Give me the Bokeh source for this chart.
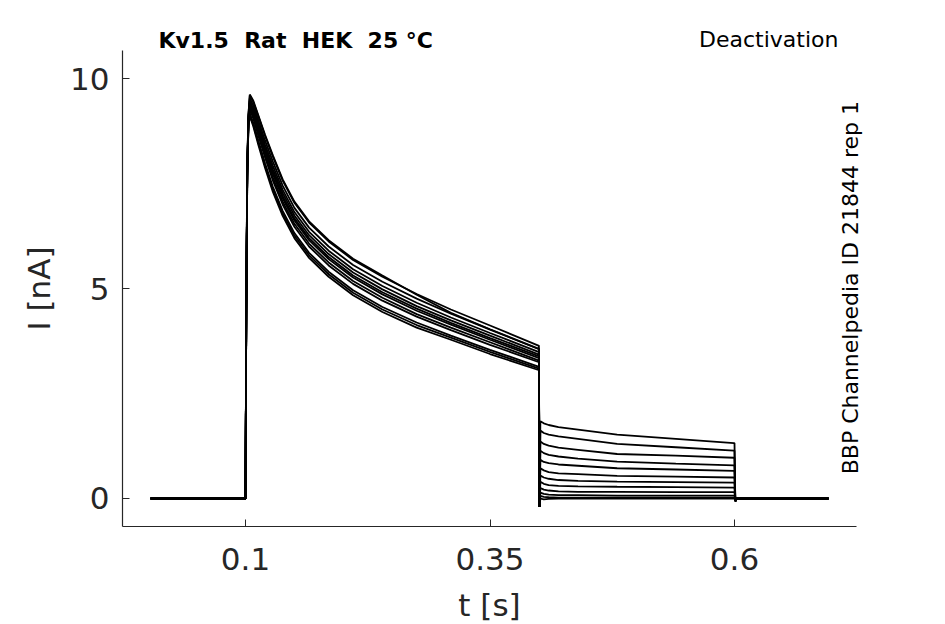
import math
from bokeh.plotting import figure
from bokeh.models import Label, FixedTicker, CustomJSTickFormatter, Range1d
from bokeh.embed import file_html
from bokeh.resources import INLINE

# ---------------- data ----------------
BASE_T = [0.003, 0.0995]
BASE_I = [0.0, 0.0]

ACT_T = [0.1, 0.1008, 0.1018, 0.103, 0.1044, 0.108, 0.113, 0.12, 0.128,
         0.138, 0.15, 0.165, 0.185, 0.21, 0.24, 0.275, 0.31, 0.35, 0.3995]
ACT = [
    [0, 4.60, 7.90, 9.13, 9.60, 9.44, 9.11, 8.63, 8.14, 7.57, 7.04, 6.57, 6.12, 5.68, 5.28, 4.87, 4.50, 4.12, 3.64],
    [0, 4.45, 7.75, 8.95, 9.26, 9.05, 8.65, 8.12, 7.57, 7.00, 6.47, 6.00, 5.55, 5.11, 4.71, 4.33, 4.01, 3.66, 3.25],
    [0, 4.55, 7.85, 9.06, 9.47, 9.29, 8.93, 8.43, 7.92, 7.35, 6.82, 6.35, 5.90, 5.46, 5.06, 4.66, 4.31, 3.94, 3.49],
    [0, 4.40, 7.65, 8.87, 9.10, 8.86, 8.43, 7.87, 7.30, 6.73, 6.20, 5.73, 5.28, 4.84, 4.44, 4.07, 3.78, 3.44, 3.06],
    [0, 4.50, 7.80, 9.02, 9.38, 9.19, 8.81, 8.30, 7.77, 7.20, 6.67, 6.20, 5.75, 5.31, 4.91, 4.52, 4.18, 3.82, 3.39],
    [0, 4.60, 7.90, 9.09, 9.53, 9.36, 9.01, 8.52, 8.02, 7.45, 6.92, 6.45, 6.00, 5.56, 5.16, 4.76, 4.40, 4.02, 3.56],
    [0, 4.40, 7.70, 8.91, 9.17, 8.94, 8.53, 7.98, 7.42, 6.85, 6.32, 5.85, 5.40, 4.96, 4.56, 4.19, 3.88, 3.54, 3.14],
    [0, 4.70, 8.00, 9.14, 9.62, 9.47, 9.13, 8.66, 8.17, 7.60, 7.07, 6.60, 6.15, 5.71, 5.31, 4.85, 4.42, 4.03, 3.57],
    [0, 4.50, 7.80, 8.98, 9.30, 9.09, 8.71, 8.18, 7.64, 7.07, 6.54, 6.07, 5.62, 5.18, 4.78, 4.39, 4.07, 3.72, 3.29],
    [0, 4.50, 7.85, 9.04, 9.42, 9.23, 8.87, 8.36, 7.84, 7.27, 6.74, 6.27, 5.82, 5.38, 4.98, 4.58, 4.24, 3.88, 3.43],
    [0, 4.35, 7.65, 8.89, 9.13, 8.90, 8.48, 7.93, 7.36, 6.79, 6.26, 5.79, 5.34, 4.90, 4.50, 4.13, 3.83, 3.49, 3.10],
    [0, 4.50, 7.80, 9.00, 9.35, 9.15, 8.77, 8.25, 7.72, 7.15, 6.62, 6.15, 5.70, 5.26, 4.86, 4.47, 4.14, 3.78, 3.35],
]

STEP_T = [0.4, 0.4006]
STEP_DIP = -0.2
DEACT_T = [0.4015, 0.405, 0.41, 0.42, 0.44, 0.48, 0.54, 0.5995]
DEACT = [
    [1.84, 1.79, 1.75, 1.70, 1.64, 1.52, 1.42, 1.32],
    [1.62, 1.56, 1.52, 1.48, 1.42, 1.30, 1.22, 1.14],
    [1.36, 1.30, 1.26, 1.21, 1.16, 1.06, 1.02, 0.97],
    [1.14, 1.08, 1.04, 1.00, 0.95, 0.88, 0.83, 0.79],
    [0.92, 0.87, 0.84, 0.81, 0.78, 0.72, 0.69, 0.66],
    [0.72, 0.67, 0.63, 0.60, 0.58, 0.54, 0.52, 0.50],
    [0.55, 0.50, 0.47, 0.44, 0.42, 0.40, 0.39, 0.38],
    [0.40, 0.35, 0.32, 0.30, 0.29, 0.28, 0.27, 0.26],
    [0.25, 0.21, 0.19, 0.17, 0.16, 0.16, 0.15, 0.15],
    [0.14, 0.11, 0.09, 0.08, 0.08, 0.07, 0.07, 0.07],
    [0.06, 0.04, 0.03, 0.02, 0.02, 0.02, 0.02, 0.02],
    [0.00, -0.02, -0.01, 0.00, 0.00, 0.00, 0.00, 0.00],
]

TAIL_T = [0.6, 0.6008, 0.602, 0.696]
TAIL_I = [-0.06, 0.0, 0.0]

X_TICKS = [0.1, 0.35, 0.6]
Y_TICKS = [0, 5, 10]
X_SPAN = (-0.02577, 0.72474)
Y_SPAN = (-0.6667, 10.667)

TITLE = "Kv1.5 \u00a0Rat \u00a0HEK \u00a025 °C"
PROTOCOL = "Deactivation"
SOURCE = "BBP Channelpedia ID 21844 rep 1"
X_LABEL = "t [s]"
Y_LABEL = "I [nA]"

# ---------------- figure ----------------
FONT = "DejaVu Sans"
GREY = "#262626"

p = figure(frame_width=734, frame_height=476,
           min_border_left=122, min_border_right=80,
           min_border_top=47, min_border_bottom=90,
           x_range=Range1d(*X_SPAN), y_range=Range1d(*Y_SPAN),
           output_backend="svg", toolbar_location=None,
           background_fill_color="white", border_fill_color="white")
p.outline_line_color = None
p.grid.visible = False

for k in range(len(ACT)):
    ts = BASE_T + ACT_T + STEP_T + DEACT_T + TAIL_T
    ys = (BASE_I + ACT[k] + [ACT[k][-1], STEP_DIP] + DEACT[k]
          + [DEACT[k][-1]] + TAIL_I)
    p.line(ts, ys, line_color="black", line_width=1.8)

for ax in (p.xaxis[0], p.yaxis[0]):
    ax.axis_line_color = GREY
    ax.axis_line_width = 1.2
    ax.major_tick_in = 7
    ax.major_tick_out = 0
    ax.major_tick_line_color = GREY
    ax.minor_tick_line_color = None
    ax.major_label_text_font = FONT
    ax.major_label_text_font_size = "31px"
    ax.major_label_text_color = GREY
    ax.axis_label_text_font = FONT
    ax.axis_label_text_font_size = "31px"
    ax.axis_label_text_font_style = "normal"
    ax.axis_label_text_color = GREY

p.xaxis.ticker = FixedTicker(ticks=X_TICKS)
p.yaxis.ticker = FixedTicker(ticks=Y_TICKS)
p.xaxis.formatter = CustomJSTickFormatter(code="return String(Math.round(tick*100)/100);")
p.xaxis.axis_label = X_LABEL
p.yaxis.axis_label = Y_LABEL
p.xaxis.major_label_standoff = 21
p.yaxis.major_label_standoff = 13
p.xaxis.axis_label_standoff = 14
p.yaxis.axis_label_standoff = 10

p.add_layout(Label(x=0.011, y=10.917, text=TITLE, text_font=FONT,
                   text_font_size="22px", text_font_style="bold",
                   text_color="black", text_align="left",
                   text_baseline="middle"), "above")
p.add_layout(Label(x=0.7063, y=10.93, text=PROTOCOL, text_font=FONT,
                   text_font_size="22px", text_color="black",
                   text_align="right", text_baseline="middle"), "above")
p.add_layout(Label(x=0.7186, y=5.02, text=SOURCE, text_font=FONT,
                   text_font_size="22px", text_color="black",
                   text_align="center", text_baseline="middle",
                   angle=math.pi / 2), "right")

open("out.html", "w").write(file_html(p, INLINE))
